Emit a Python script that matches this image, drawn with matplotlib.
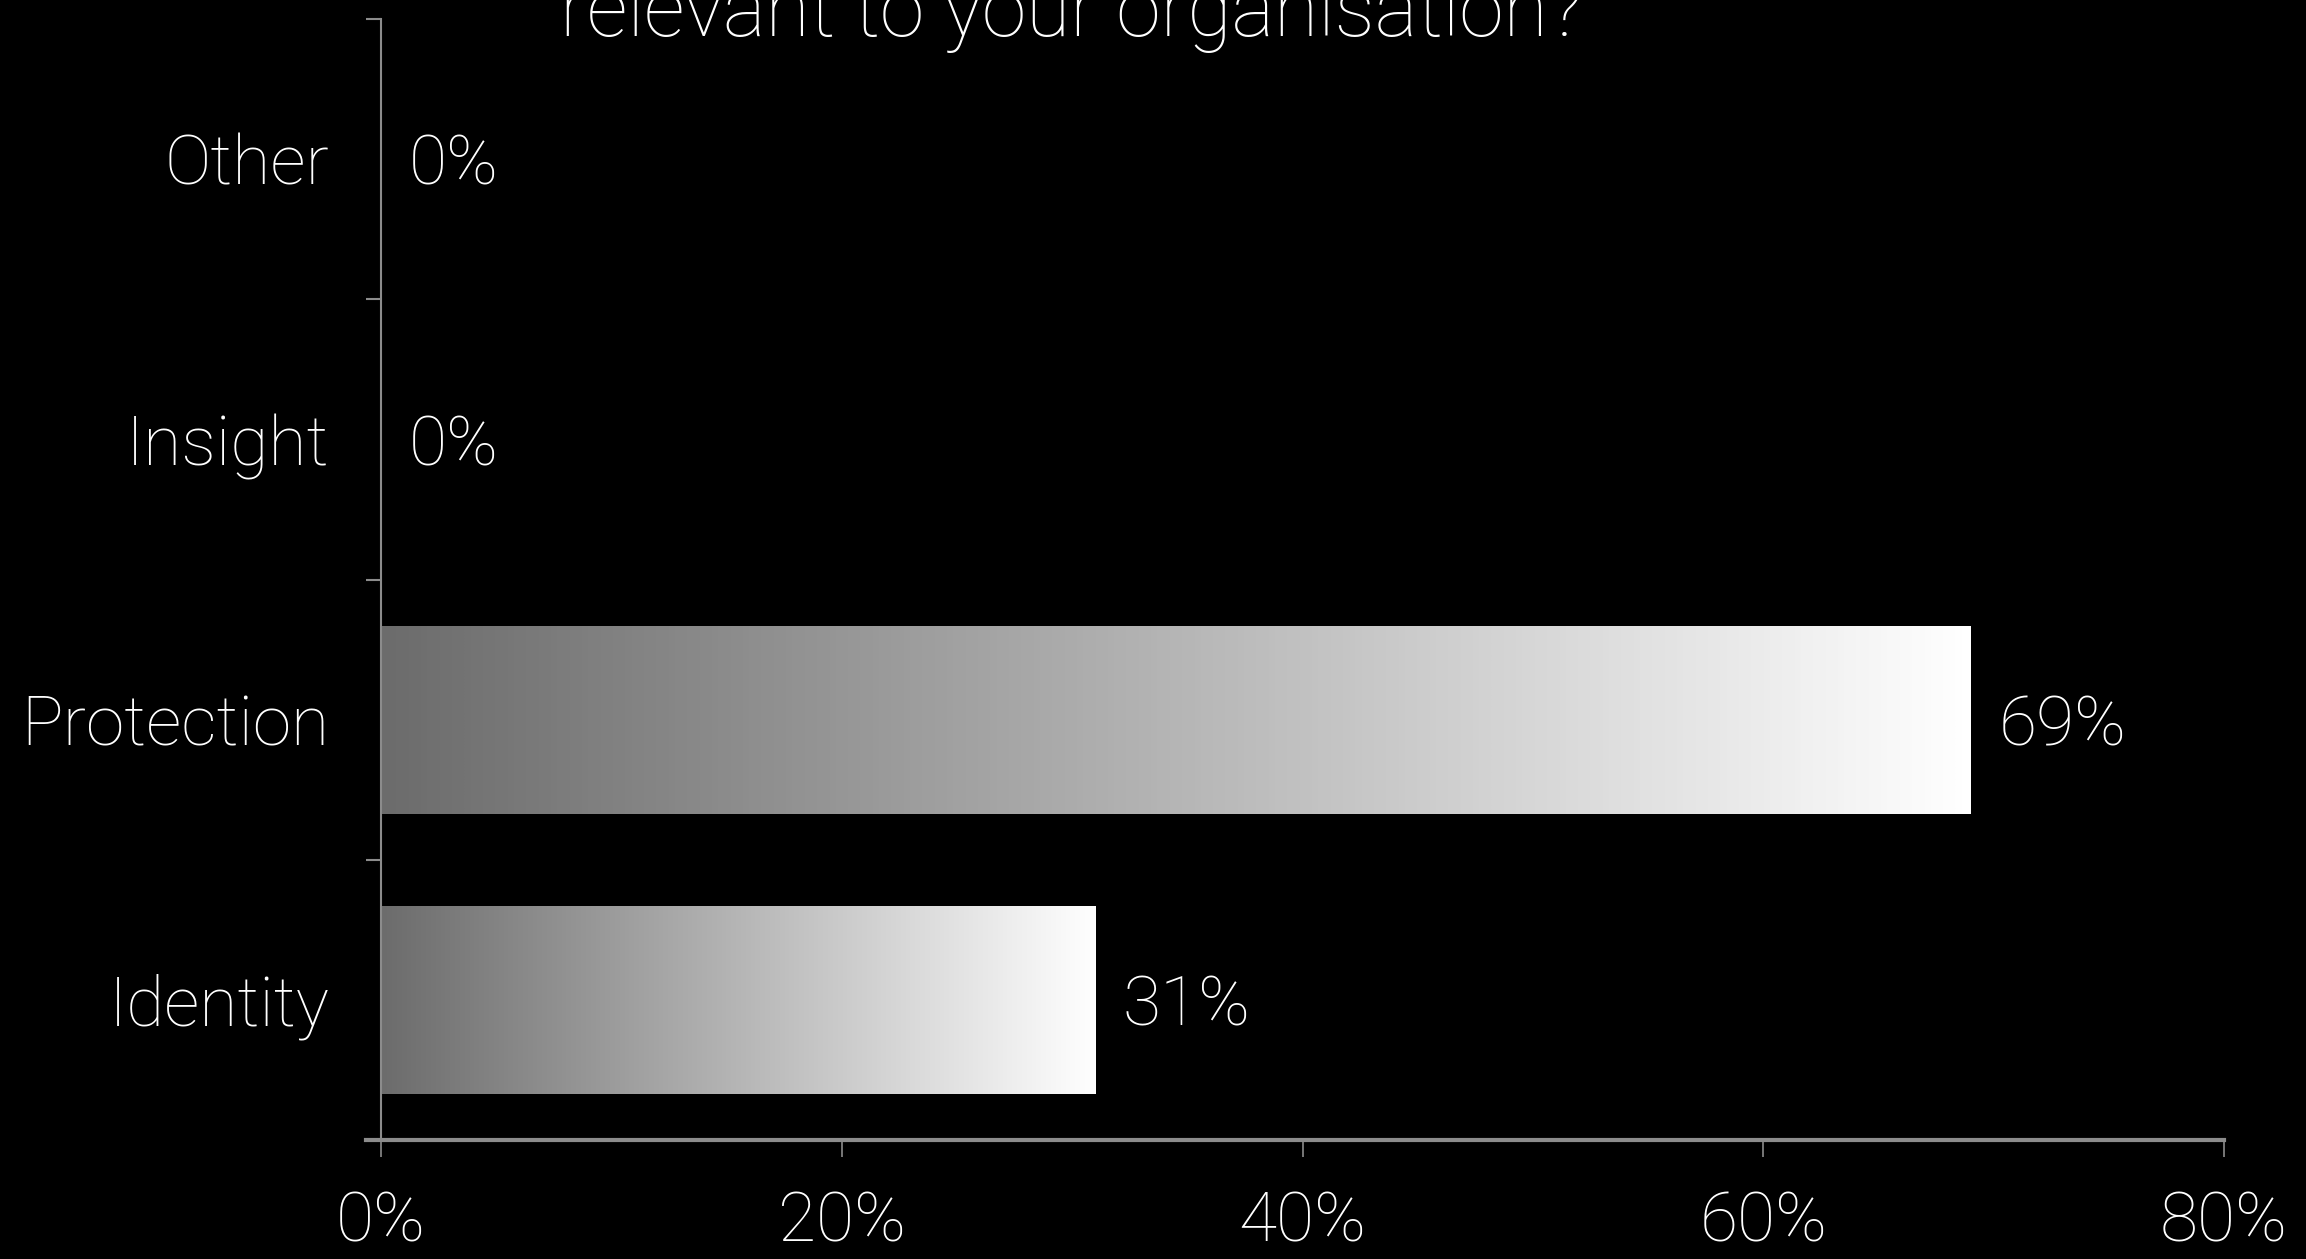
import matplotlib
matplotlib.use('Agg')
import matplotlib.pyplot as plt
import numpy as np
from matplotlib.colors import LinearSegmentedColormap

categories = ['Identity', 'Protection', 'Insight', 'Other']
values = [31, 69, 0, 0]
xticks = [0, 20, 40, 60, 80]
xtick_labels = ['0%', '20%', '40%', '60%', '80%']
title_visible = 'relevant to your organisation?'

plt.rcParams['font.family'] = ['Roboto', 'DejaVu Sans']
plt.rcParams['font.weight'] = 'light'

W, H = 2306, 1259
fig = plt.figure(figsize=(W / 100, H / 100), dpi=100, facecolor='black')
ax = fig.add_axes([381 / W, 1 - 1140 / H, (2224 - 381) / W, (1140 - 19) / H])
ax.set_facecolor('black')

grey = '#8c8c8c'
fs = 50

bars = ax.barh(range(len(categories)), values, height=0.67, color='none', edgecolor='none')
cmap = LinearSegmentedColormap.from_list('g', ['#6c6c6c', '#ffffff'])
grad = np.linspace(0, 1, 256).reshape(1, -1)
for b in bars:
    x0, y0, w, h = b.get_x(), b.get_y(), b.get_width(), b.get_height()
    if w > 0:
        ax.imshow(grad, cmap=cmap, extent=[x0, x0 + w, y0, y0 + h],
                  aspect='auto', zorder=2, interpolation='bilinear')

for i, v in enumerate(values):
    ax.annotate(f'{v}%', xy=(v, i), xytext=(20, 0), textcoords='offset points',
                ha='left', va='center_baseline', color='white', fontsize=fs,
                fontweight='light')

ax.set_xlim(0, 80)
ax.set_ylim(-0.5, len(categories) - 0.5)

ax.set_yticks(range(len(categories)))
ax.set_yticklabels(categories)
ax.set_yticks(np.arange(-0.5, len(categories), 1), minor=True)
ax.tick_params(axis='y', which='major', length=0, pad=37, labelsize=fs, labelcolor='white')
ax.tick_params(axis='y', which='minor', length=11, width=1.5, color=grey)

ax.set_xticks(xticks)
ax.set_xticklabels(xtick_labels)
ax.tick_params(axis='x', which='major', length=12, width=1.2, color=grey, pad=24,
               labelsize=fs, labelcolor='white')

for s in ['top', 'right']:
    ax.spines[s].set_visible(False)
ax.spines['left'].set_color(grey)
ax.spines['left'].set_linewidth(1.5)
ax.spines['bottom'].set_color(grey)
ax.spines['bottom'].set_linewidth(3)
ax.spines['bottom'].set_bounds(-0.65, 80)

fig.text(1071 / W, 1 - 36 / H, title_visible, ha='center', va='baseline',
         color='white', fontsize=58, fontweight='light')

fig.savefig('out.png', dpi=100, facecolor='black')
